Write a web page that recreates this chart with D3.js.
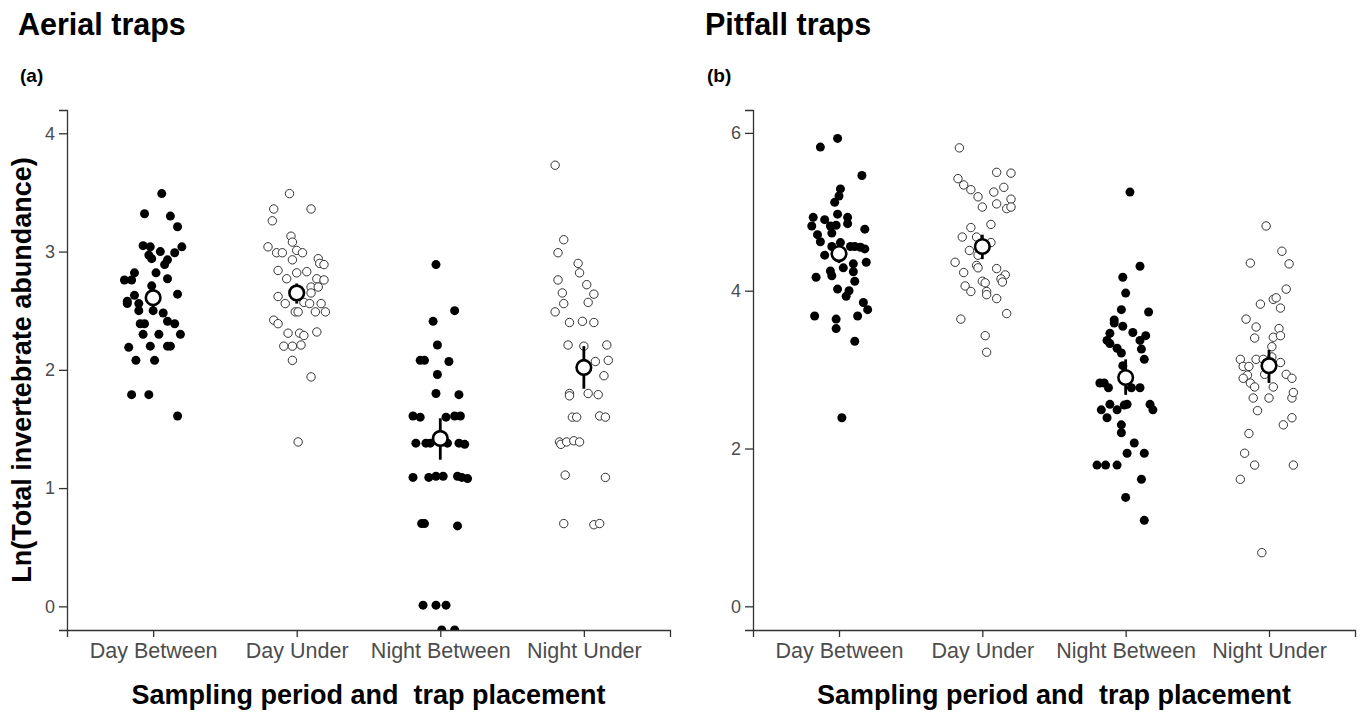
<!DOCTYPE html>
<html>
<head>
<meta charset="utf-8">
<script src="https://cdn.jsdelivr.net/npm/d3@7"></script>
<style>
  html, body { margin: 0; padding: 0; background: #fff; }
  text { font-family: "Liberation Sans", Arial, sans-serif; }
</style>
</head>
<body>
<svg id="chart" width="1362" height="727"></svg>
<script>
// ---------- Data ----------
const categories = ["Day Between", "Day Under", "Night Between", "Night Under"];
const panelTitles = ["Aerial traps", "Pitfall traps"];
const panelTags = ["(a)", "(b)"];
const yLabel = "Ln(Total invertebrate abundance)";
const xLabel = "Sampling period and  trap placement";
const aerialTicks = [0, 1, 2, 3, 4];
const pitfallTicks = [0, 2, 4, 6];

// Aerial traps — values and horizontal jitter (category units)
const aerialDayBetween = [3.49,3.32,3.30,3.21,3.05,3.04,3.00,3.04,2.97,2.99,2.93,2.89,2.94,2.82,2.82,2.76,2.76,2.77,2.71,2.63,2.64,2.58,2.56,2.56,2.50,2.50,2.48,2.41,2.39,2.39,2.39,2.30,2.30,2.30,2.19,2.20,2.20,2.20,2.08,2.08,1.79,1.79,1.61];
const aerialDayBetweenJitter = [0.06,-0.06,0.12,0.17,-0.07,-0.02,0.05,0.20,-0.03,0.15,0.10,0.08,-0.01,-0.13,0.02,-0.20,-0.15,0.10,-0.01,-0.13,0.17,-0.18,-0.18,-0.10,-0.10,0.00,0.07,0.10,0.15,-0.09,-0.06,-0.07,0.04,0.19,-0.17,-0.02,0.10,0.12,-0.12,0.01,-0.15,-0.03,0.17];
const aerialDayUnder = [3.49,3.36,3.36,3.26,3.13,3.08,3.04,2.99,2.99,3.01,2.99,2.93,2.94,2.90,2.89,2.84,2.82,2.83,2.77,2.77,2.76,2.70,2.70,2.65,2.62,2.56,2.57,2.56,2.56,2.49,2.49,2.49,2.49,2.42,2.39,2.31,2.31,2.29,2.32,2.20,2.20,2.21,2.08,1.94,1.39];
const aerialDayUnderJitter = [-0.05,-0.16,0.10,-0.17,-0.04,-0.03,-0.20,-0.14,-0.10,0.00,0.04,-0.03,0.15,0.16,0.19,-0.13,0.00,0.07,-0.07,0.14,0.19,0.10,0.15,0.10,-0.13,-0.08,0.05,0.09,0.17,-0.01,0.01,0.13,0.20,-0.16,-0.13,-0.06,0.02,0.05,0.14,-0.09,-0.03,0.03,-0.03,0.10,0.01];
const aerialNightBetween = [2.89,2.50,2.41,2.21,2.08,2.08,2.07,1.96,1.80,1.79,1.61,1.60,1.60,1.61,1.61,1.38,1.38,1.38,1.38,1.38,1.37,1.09,1.09,1.10,1.10,1.10,1.09,1.08,0.70,0.70,0.68,0.01,0.01,0.01,-0.20,-0.20];
const aerialNightBetweenJitter = [-0.03,0.10,-0.05,-0.02,-0.14,-0.11,0.06,-0.02,-0.03,0.13,-0.19,-0.14,0.04,0.10,0.14,-0.17,-0.10,-0.07,0.05,0.13,0.17,-0.19,-0.08,-0.03,0.02,0.12,0.15,0.19,-0.13,-0.11,0.12,-0.12,-0.03,0.04,0.01,0.10];
const aerialNightUnder = [3.73,3.10,2.99,2.90,2.82,2.76,2.72,2.64,2.65,2.56,2.57,2.49,2.40,2.41,2.40,2.21,2.20,2.21,2.07,2.08,1.95,1.80,1.78,1.80,1.79,1.60,1.60,1.61,1.60,1.39,1.37,1.39,1.40,1.39,1.11,1.09,0.70,0.69,0.70];
const aerialNightUnderJitter = [-0.20,-0.14,-0.18,-0.04,-0.03,-0.18,0.02,0.07,-0.15,-0.14,0.03,-0.20,-0.10,-0.01,0.07,-0.11,0.00,0.16,0.08,0.17,0.14,-0.10,-0.10,0.03,0.10,-0.08,-0.05,0.11,0.15,-0.17,-0.16,-0.12,-0.07,-0.03,-0.13,0.15,-0.14,0.07,0.11];
const aerialMeans = [2.61, 2.65, 1.42, 2.02];
const aerialLower = [2.53, 2.56, 1.24, 1.84];
const aerialUpper = [2.69, 2.73, 1.59, 2.20];

// Pitfall traps
const pitfallDayBetween = [5.93,5.82,5.46,5.29,5.20,5.12,4.97,4.93,4.90,4.93,4.82,4.82,4.83,4.85,4.78,4.71,4.73,4.62,4.61,4.56,4.56,4.55,4.53,4.56,4.45,4.36,4.34,4.29,4.24,4.17,4.25,4.19,4.12,4.02,4.00,3.93,3.85,3.76,3.68,3.64,3.68,3.52,3.36,2.39];
const pitfallDayBetweenJitter = [-0.01,-0.13,0.16,0.01,0.00,-0.03,-0.01,-0.18,-0.10,0.06,-0.19,-0.06,-0.02,0.06,0.18,-0.15,-0.05,-0.13,0.01,0.08,0.11,0.15,0.18,-0.05,-0.10,0.19,0.10,0.03,0.10,-0.16,-0.06,-0.05,0.11,-0.01,0.07,0.05,0.17,0.20,-0.17,-0.02,0.13,-0.02,0.11,0.02];
const pitfallDayUnder = [5.81,5.50,5.49,5.42,5.34,5.28,5.19,5.25,5.31,5.16,5.10,5.06,5.04,5.06,4.84,4.80,4.68,4.68,4.61,4.51,4.45,4.36,4.32,4.29,4.28,4.20,4.23,4.15,4.11,4.12,4.10,4.06,3.99,3.99,3.95,3.90,3.71,3.64,3.43,3.22];
const pitfallDayUnderJitter = [-0.16,0.10,0.20,-0.17,-0.13,-0.08,-0.03,0.08,0.15,0.20,0.10,0.00,0.17,0.20,0.06,-0.08,-0.14,-0.04,0.06,-0.09,-0.03,-0.19,-0.04,-0.03,0.10,0.16,-0.13,0.13,0.14,0.00,0.02,-0.12,-0.08,0.03,0.03,0.10,0.17,-0.15,0.02,0.03];
const pitfallNightBetween = [5.25,4.31,4.17,3.97,3.76,3.73,3.63,3.59,3.55,3.46,3.47,3.43,3.37,3.33,3.37,3.27,3.21,3.26,3.13,3.05,2.83,2.83,2.77,2.77,2.77,2.56,2.49,2.39,2.49,2.55,2.56,2.56,2.49,2.30,2.20,2.07,1.94,1.94,1.79,1.79,1.79,1.61,1.38,1.09];
const pitfallNightBetweenJitter = [0.03,0.10,-0.02,0.00,-0.03,0.16,-0.08,-0.08,-0.02,-0.11,0.05,0.14,-0.13,-0.11,0.10,-0.06,-0.03,0.11,0.13,-0.02,-0.18,-0.15,-0.12,0.04,0.10,-0.11,-0.17,-0.13,-0.06,-0.01,0.01,0.17,0.19,-0.03,-0.03,0.06,0.01,0.13,-0.20,-0.14,-0.06,0.11,0.00,0.13];
const pitfallNightUnder = [4.82,4.50,4.35,4.34,4.02,3.89,3.91,3.83,3.78,3.64,3.54,3.52,3.40,3.41,3.43,3.29,3.13,3.13,3.13,3.16,3.09,3.04,3.04,2.93,2.89,2.94,2.94,2.89,2.83,2.78,2.78,2.64,2.64,2.64,2.71,2.48,2.39,2.30,2.19,1.94,1.79,1.79,1.61,0.68];
const pitfallNightUnderJitter = [-0.02,0.09,-0.13,0.14,0.12,0.03,0.05,-0.06,0.08,-0.16,-0.09,0.07,-0.10,0.03,0.08,0.02,-0.20,-0.09,-0.04,0.02,0.08,-0.18,-0.14,-0.15,-0.18,-0.03,0.12,0.16,-0.13,-0.10,0.03,-0.11,0.00,0.16,0.17,-0.08,0.16,0.10,-0.14,-0.17,-0.10,0.17,-0.20,-0.05];
const pitfallMeans = [4.47, 4.56, 2.90, 3.05];
const pitfallLower = [4.35, 4.40, 2.68, 2.83];
const pitfallUpper = [4.60, 4.71, 3.13, 3.25];

// ---------- Build ----------
const svg = d3.select("#chart");
const FONT = '"Liberation Sans", Arial, sans-serif';

const panels = [
  {
    title: panelTitles[0], tag: panelTags[0], ticks: aerialTicks,
    left: 67, right: 670, top: 110, bottom: 630, yDomain: [-0.2, 4.197],
    groups: [
      {vals: aerialDayBetween, jit: aerialDayBetweenJitter},
      {vals: aerialDayUnder, jit: aerialDayUnderJitter},
      {vals: aerialNightBetween, jit: aerialNightBetweenJitter},
      {vals: aerialNightUnder, jit: aerialNightUnderJitter}
    ],
    means: aerialMeans, lower: aerialLower, upper: aerialUpper,
    showYLabel: true, titleX: 18
  },
  {
    title: panelTitles[1], tag: panelTags[1], ticks: pitfallTicks,
    left: 753, right: 1355, top: 110, bottom: 630, yDomain: [-0.3, 6.29],
    groups: [
      {vals: pitfallDayBetween, jit: pitfallDayBetweenJitter},
      {vals: pitfallDayUnder, jit: pitfallDayUnderJitter},
      {vals: pitfallNightBetween, jit: pitfallNightBetweenJitter},
      {vals: pitfallNightUnder, jit: pitfallNightUnderJitter}
    ],
    means: pitfallMeans, lower: pitfallLower, upper: pitfallUpper,
    showYLabel: false, titleX: 705
  }
];

const filled = [true, false, true, false];

panels.forEach((p, pi) => {
  const x = d3.scalePoint().domain(categories).range([p.left, p.right]).padding(0.6);
  const y = d3.scaleLinear().domain(p.yDomain).range([p.bottom, p.top]);
  const step = x.step();

  // Titles
  svg.append("text").attr("x", p.titleX).attr("y", 35)
    .attr("font-size", 30.5).attr("font-weight", "bold").attr("fill", "#000")
    .text(p.title);
  svg.append("text").attr("x", p.titleX + 2).attr("y", 82)
    .attr("font-size", 19).attr("font-weight", "bold").attr("fill", "#000")
    .text(p.tag);

  // Clip
  const clipId = "clip" + pi;
  svg.append("clipPath").attr("id", clipId).append("rect")
    .attr("x", p.left).attr("y", p.top)
    .attr("width", p.right - p.left).attr("height", p.bottom - p.top);

  const plot = svg.append("g").attr("clip-path", `url(#${clipId})`);

  // Points
  p.groups.forEach((g, gi) => {
    const pts = g.vals.map((v, i) => ({v, j: g.jit[i]}));
    plot.append("g").selectAll("circle").data(pts).join("circle")
      .attr("cx", d => x(categories[gi]) + d.j * step)
      .attr("cy", d => y(d.v))
      .attr("r", filled[gi] ? 4.5 : 4.2)
      .attr("fill", filled[gi] ? "#000" : "#fff")
      .attr("stroke", filled[gi] ? "none" : "#333")
      .attr("stroke-width", 1);
  });

  // Error bars and means
  const stats = categories.map((c, i) => ({c, m: p.means[i], lo: p.lower[i], hi: p.upper[i]}));
  plot.append("g").selectAll("line").data(stats).join("line")
    .attr("x1", d => x(d.c)).attr("x2", d => x(d.c))
    .attr("y1", d => y(d.lo)).attr("y2", d => y(d.hi))
    .attr("stroke", "#000").attr("stroke-width", 2.8);
  plot.append("g").selectAll("circle").data(stats).join("circle")
    .attr("cx", d => x(d.c)).attr("cy", d => y(d.m))
    .attr("r", 7.3).attr("fill", "#fff").attr("stroke", "#000").attr("stroke-width", 2.6);

  // Axes
  const yAxis = svg.append("g").attr("transform", `translate(${p.left},0)`)
    .call(d3.axisLeft(y).tickValues(p.ticks).tickFormat(d3.format("d")).tickSizeOuter(0).tickSize(8).tickPadding(4));
  yAxis.select(".domain").attr("stroke", "#333").attr("stroke-width", 1.3);
  yAxis.selectAll(".tick line").attr("stroke", "#333").attr("stroke-width", 1.3);
  yAxis.selectAll(".tick text").attr("font-size", 18).attr("fill", "#4d4d4d").attr("font-family", FONT);

  const xAxis = svg.append("g").attr("transform", `translate(0,${p.bottom})`)
    .call(d3.axisBottom(x).tickSizeOuter(0).tickSize(7).tickPadding(6));
  xAxis.select(".domain").attr("stroke", "#333").attr("stroke-width", 1.3);
  xAxis.selectAll(".tick line").attr("stroke", "#333").attr("stroke-width", 1.3);
  xAxis.selectAll(".tick text").attr("font-size", 21.5).attr("fill", "#4d4d4d").attr("font-family", FONT);

  // X title (double space preserved)
  svg.append("text")
    .attr("x", (p.left + p.right) / 2).attr("y", 704)
    .attr("text-anchor", "middle").attr("font-size", 27).attr("font-weight", "bold")
    .style("white-space", "pre")
    .text(xLabel);

  if (p.showYLabel) {
    svg.append("text")
      .attr("transform", `translate(31,${(p.top + p.bottom) / 2}) rotate(-90)`)
      .attr("text-anchor", "middle").attr("font-size", 27).attr("font-weight", "bold")
      .text(yLabel);
  }
});
</script>
</body>
</html>
